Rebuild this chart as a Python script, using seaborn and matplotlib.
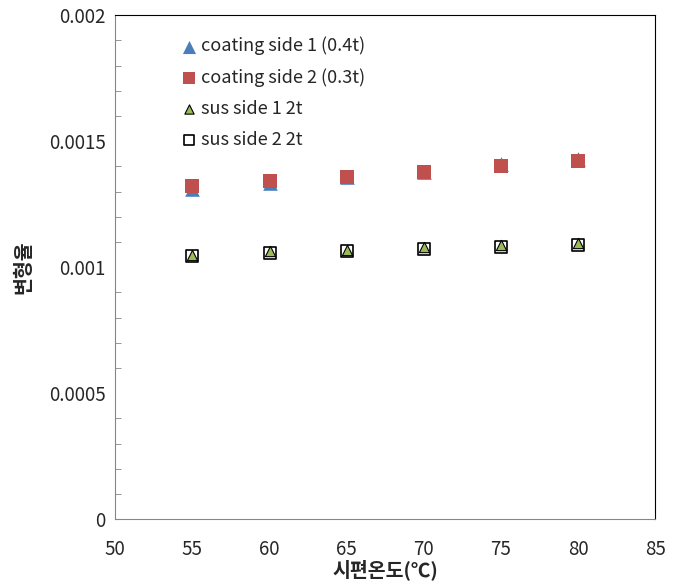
import numpy as np
import pandas as pd
import matplotlib
matplotlib.use("Agg")
import matplotlib.pyplot as plt
from matplotlib.ticker import MultipleLocator
import seaborn as sns

# --- dados ---
temps = [55, 60, 65, 70, 75, 80]
coat1 = [0.00131, 0.001335, 0.00136, 0.00138, 0.00141, 0.00143]
coat2 = [0.001321, 0.001341, 0.001357, 0.001377, 0.001403, 0.00142]
sus1 = [0.001048, 0.001063, 0.00107, 0.00108, 0.001087, 0.001095]
sus2 = [0.001045, 0.001058, 0.001065, 0.001073, 0.00108, 0.001087]
labels = ['coating side 1 (0.4t)', 'coating side 2 (0.3t)', 'sus side 1 2t', 'sus side 2 2t']

sns.set_style("white")
plt.rcParams['font.family'] = ['Noto Sans CJK KR', 'DejaVu Sans']

fig = plt.figure(figsize=(6.74, 5.88), dpi=100)
ax = fig.add_axes([0.171, 0.117, 0.801, 0.857])

sns.scatterplot(x=temps, y=coat1, ax=ax, marker='^', s=110, color='#4a7ebb',
                edgecolor='#4a7ebb', linewidth=0, label=labels[0], zorder=3)
sns.scatterplot(x=temps, y=coat2, ax=ax, marker='s', s=105, color='#c0504d',
                edgecolor='#c0504d', linewidth=0, label=labels[1], zorder=4)
sns.scatterplot(x=temps, y=sus2, ax=ax, marker='s', s=75, color='white',
                edgecolor='black', linewidth=1.2, label=labels[3], zorder=5)
sns.scatterplot(x=temps, y=sus1, ax=ax, marker='^', s=55, color='#9bbb59',
                edgecolor='black', linewidth=0.8, label=labels[2], zorder=6)

ax.set_xlim(50, 85)
ax.set_ylim(0, 0.002)
ax.xaxis.set_major_locator(MultipleLocator(5))
ax.yaxis.set_minor_locator(MultipleLocator(0.0001))
ax.set_yticks([0, 0.0005, 0.001, 0.0015, 0.002])
ax.set_yticklabels(['0', '0.0005', '0.001', '0.0015', '0.002'])
ax.tick_params(axis='y', which='major', direction='inout', length=7, color='#868686', labelsize=13.5)
ax.tick_params(axis='y', which='minor', direction='in', length=4, color='#868686', left=True)
ax.tick_params(axis='x', length=0, labelsize=13.5, pad=14)

for side in ['left', 'bottom']:
    ax.spines[side].set_color('#868686')
for side in ['top', 'right']:
    ax.spines[side].set_color('black')

ax.set_xlabel('시편온도(℃)', fontsize=14, fontweight='bold', labelpad=0)
ax.set_ylabel('변형율', fontsize=14, fontweight='bold', labelpad=11)

handles, lbls = ax.get_legend_handles_labels()
order = [lbls.index(l) for l in labels]
ax.legend([handles[i] for i in order], [lbls[i] for i in order], loc='upper left',
          bbox_to_anchor=(0.09, 0.99), frameon=False, fontsize=13,
          handlelength=1.0, handletextpad=0.15, labelspacing=0.72, markerscale=0.9)

fig.savefig('out.png', dpi=100)
